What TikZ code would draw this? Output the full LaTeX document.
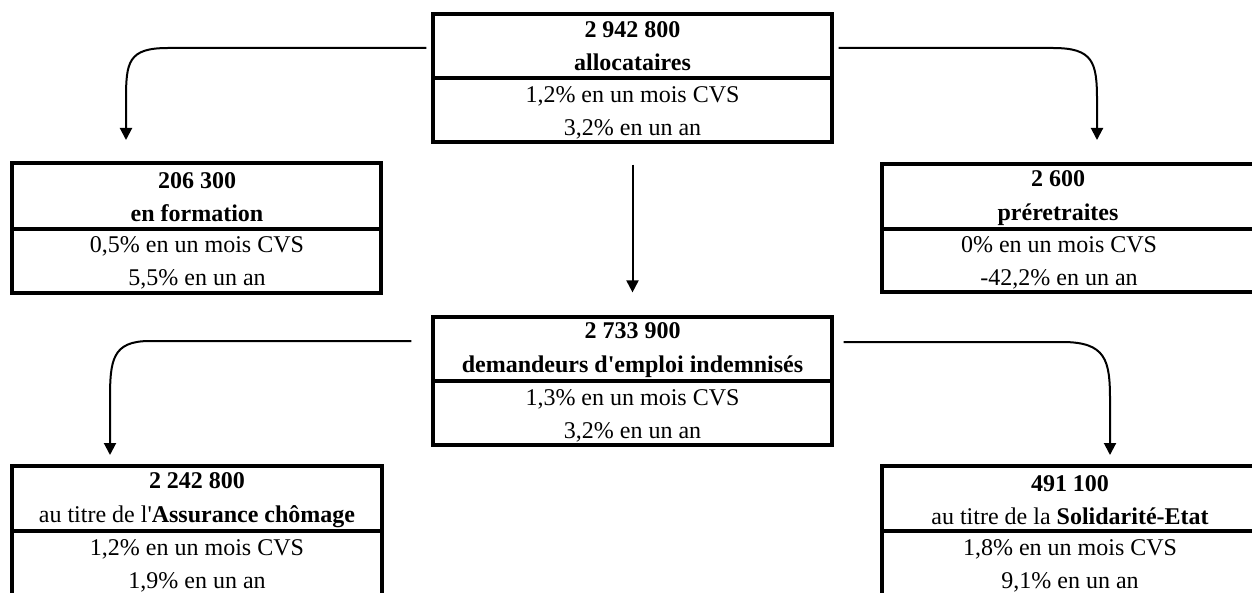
\documentclass[tikz,border=0pt]{standalone}
\usepackage{fontspec}
\setmainfont{Liberation Serif}[Ligatures=TeXOff]
\usetikzlibrary{arrows.meta}
\tikzset{
  cell/.style={draw, line width=3.2pt, rectangle, inner sep=0pt},
  txt/.style={align=center, inner sep=0pt, font=\fontsize{24}{33.5}\selectfont},
  conn/.style={line width=2pt, -{Triangle[width=12pt,length=12pt]}}
}
\begin{document}
\begin{tikzpicture}[x=1pt,y=-1pt]
\useasboundingbox (0,0) rectangle (1252,593);
\clip (0,0) rectangle (1252,593);
% top box
\node[cell, minimum width=399pt, minimum height=64pt] (tophead) at (632.5,46) {};
\node[cell, minimum width=399pt, minimum height=64pt] (topbody) at (632.5,110) {};
\node[txt] (toptext1) at (632.5,46) {\textbf{2 942 800}\\\textbf{allocataires}};
\node[txt] (toptext2) at (632.5,113) {1,2\% en un mois CVS\\3,2\% en un an};
% left box
\node[cell, minimum width=369pt, minimum height=66pt] (lefthead) at (196.5,196) {};
\node[cell, minimum width=369pt, minimum height=64pt] (leftbody) at (196.5,261) {};
\node[txt] (lefttext1) at (197,197) {\textbf{206 300}\\\textbf{en formation}};
\node[txt] (lefttext2) at (197,263) {0,5\% en un mois CVS\\5,5\% en un an};
% right box
\node[cell, minimum width=380pt, minimum height=65pt] (righthead) at (1072,196.5) {};
\node[cell, minimum width=380pt, minimum height=63pt] (rightbody) at (1072,260.5) {};
\node[txt] (righttext1) at (1058,198) {\textbf{2 600}\\\textbf{préretraites}};
\node[txt] (righttext2) at (1059,263) {0\% en un mois CVS\\-42,2\% en un an};
% middle box
\node[cell, minimum width=399pt, minimum height=64pt] (midhead) at (632.5,349) {};
\node[cell, minimum width=399pt, minimum height=64pt] (midbody) at (632.5,413) {};
\node[txt] (midtext1) at (632.5,350) {\textbf{2 733 900}\\\textbf{demandeurs d'emploi indemnisés}};
\node[txt] (midtext2) at (632.5,416) {1,3\% en un mois CVS\\3,2\% en un an};
% bottom left box
\node[cell, minimum width=370pt, minimum height=65pt] (blhead) at (197,498.5) {};
\node[cell, minimum width=370pt, minimum height=66pt] (blbody) at (197,564) {};
\node[txt] (bltext1) at (197,500) {\textbf{2 242 800}\\au titre de l'\textbf{Assurance chômage}};
\node[txt] (bltext2) at (197,566) {1,2\% en un mois CVS\\1,9\% en un an};
% bottom right box
\node[cell, minimum width=380pt, minimum height=65pt] (brhead) at (1072,498.5) {};
\node[cell, minimum width=380pt, minimum height=66pt] (brbody) at (1072,564) {};
\node[txt] (brtext1) at (1070,500) {\textbf{491 100}\\au titre de la \textbf{Solidarité-Etat}};
\node[txt] (brtext2) at (1070,566) {1,8\% en un mois CVS\\9,1\% en un an};
% arrow end points
\coordinate (a1) at (126,140);
\coordinate (a2) at (1097,140);
\coordinate (a3) at (110,455);
\coordinate (a4) at (1110,455);
% connectors
\draw[conn] ([xshift=-5pt,yshift=-2pt]tophead.west) -- (168,48) .. controls (128,48) and (126,62) .. (126,100) -- (a1);
\draw[conn] ([xshift=5pt,yshift=-2pt]tophead.east) -- (1053,48) .. controls (1093,48) and (1097,62) .. (1097,100) -- (a2);
\draw[conn] ([yshift=-21pt]topbody.south) -- ([yshift=23pt]midhead.north);
\draw[conn] ([xshift=-20pt,yshift=8pt]midhead.west) -- (150,341) .. controls (112,341) and (110,360) .. (110,400) -- (a3);
\draw[conn] ([xshift=10pt,yshift=7pt]midhead.east) -- (1062,342) .. controls (1106,342) and (1110,360) .. (1110,400) -- (a4);
\end{tikzpicture}
\end{document}
